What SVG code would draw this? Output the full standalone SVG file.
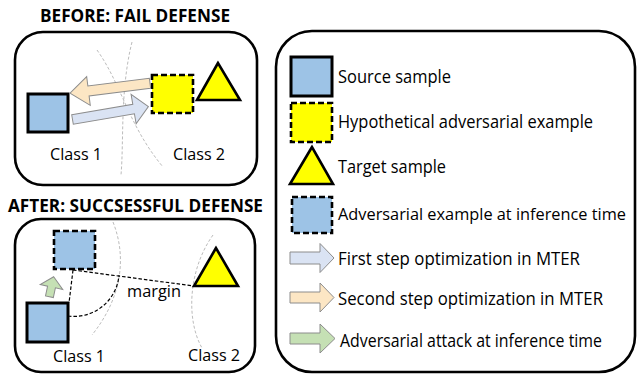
<svg xmlns="http://www.w3.org/2000/svg" width="639" height="375" viewBox="0 0 639 375">
<defs>
<style>
.panel{fill:#fff;stroke:#000;stroke-width:2.6}
.src{fill:#9DC3E6;stroke:#000;stroke-width:3}
.adv{fill:#9DC3E6;stroke:#000;stroke-width:2.6;stroke-dasharray:6 3}
.hyp{fill:#FFFF00;stroke:#000;stroke-width:2.6;stroke-dasharray:6 3}
.tgt{fill:#FFFF00;stroke:#000;stroke-width:2.6;stroke-linejoin:miter}
.bound{fill:none;stroke:#bcbcbc;stroke-width:1;stroke-dasharray:3 2}
.dash{fill:none;stroke:#000;stroke-width:1.2;stroke-dasharray:3.5 2}
.a1{fill:#DAE3F3;stroke:#8c8c8c;stroke-width:1}
.a2{fill:#FCE6C4;stroke:#8c8c8c;stroke-width:1}
.a3{fill:#C5E0B4;stroke:#8c8c8c;stroke-width:1}
.title{font-family:"Open Sans","Liberation Sans",sans-serif;font-weight:bold;font-size:17px;fill:#000}
.lbl{font-family:"Open Sans","Liberation Sans",sans-serif;font-size:17px;fill:#000}
.leg{font-family:"Open Sans","Liberation Sans",sans-serif;font-size:17.5px;fill:#000}
.legs{font-family:"Open Sans","Liberation Sans",sans-serif;font-size:16.5px;fill:#000}
</style>
</defs>

<!-- titles -->
<text class="title" x="40" y="22" textLength="190" lengthAdjust="spacingAndGlyphs">BEFORE: FAIL DEFENSE</text>
<text class="title" x="8" y="212" textLength="255" lengthAdjust="spacingAndGlyphs">AFTER: SUCCSESSFUL DEFENSE</text>

<!-- panels -->
<g id="panel-before"><rect class="panel" x="15" y="32" width="242" height="153" rx="28"/></g>
<g id="panel-after"><rect class="panel" x="15" y="219" width="240" height="153" rx="26"/></g>
<g id="panel-legend"><rect class="panel" x="276" y="31" width="359" height="341" rx="36"/></g>

<!-- decision boundaries -->
<g id="boundaries">
<path class="bound" d="M97,50 C122,85 128,125 163,167"/>
<path class="bound" d="M132,42 C120,90 124,140 121,175"/>
<path class="bound" d="M113,222 C128,260 120,300 92,335"/>
<path class="bound" d="M213,235 C188,270 186,320 202,348"/>
</g>

<!-- BEFORE nodes -->
<g id="before-source"><rect class="src" x="28" y="94" width="40" height="38"/></g>
<g id="before-hyp"><rect class="hyp" x="152" y="75" width="41" height="38"/></g>
<g id="before-target"><polygon class="tgt" points="218,63 197,100 240,100"/></g>
<text class="lbl" x="50" y="160" textLength="52" lengthAdjust="spacingAndGlyphs">Class 1</text>
<text class="lbl" x="173" y="160" textLength="52" lengthAdjust="spacingAndGlyphs">Class 2</text>

<!-- AFTER nodes -->
<g id="after-adv"><rect class="adv" x="54" y="231" width="41" height="38"/></g>
<g id="after-source"><rect class="src" x="27" y="303" width="41" height="39"/></g>
<g id="after-target"><polygon class="tgt" points="216,248 194,286 238,286"/></g>
<text class="lbl" x="127" y="297" textLength="54" lengthAdjust="spacingAndGlyphs">margin</text>
<text class="lbl" x="53" y="362" textLength="52" lengthAdjust="spacingAndGlyphs">Class 1</text>
<text class="lbl" x="188" y="361" textLength="52" lengthAdjust="spacingAndGlyphs">Class 2</text>

<!-- connectors -->
<g id="connectors">
<polygon class="a2" transform="translate(150,83.3) rotate(172.9)" points="0,-5 62,-5 62,-14.5 80.6,0 62,14.5 62,5 0,5"/>
<polygon class="a1" transform="translate(72.5,119.5) rotate(-9.7)" points="0,-4.8 62,-4.8 62,-15 77,0 62,15 62,4.8 0,4.8"/>
<polygon class="a3" transform="translate(51.5,287) rotate(12)" points="0,-10.5 11.5,0 4,0 4,10 -4,10 -4,0 -11.5,0"/>
<path class="dash" d="M73,270 L194,286"/>
<path class="dash" d="M73,270 L69,303"/>
<path class="dash" d="M68,316 A45 45 0 0 0 119,275"/>
</g>

<!-- legend -->
<g id="legend-source"><rect class="src" x="291" y="57" width="41" height="39"/>
<text class="leg" x="338" y="83" textLength="113" lengthAdjust="spacingAndGlyphs">Source sample</text></g>
<g id="legend-hyp"><rect class="hyp" x="291" y="103" width="41" height="39"/>
<text class="leg" x="338" y="128" textLength="255" lengthAdjust="spacingAndGlyphs">Hypothetical adversarial example</text></g>
<g id="legend-target"><polygon class="tgt" points="312,147 290,184 333,184"/>
<text class="leg" x="338" y="173" textLength="108" lengthAdjust="spacingAndGlyphs">Target sample</text></g>
<g id="legend-adv"><rect class="adv" x="292" y="197" width="40" height="36"/>
<text class="legs" x="338" y="220" textLength="288" lengthAdjust="spacingAndGlyphs">Adversarial example at inference time</text></g>
<g id="legend-first"><polygon class="a1" points="290,252 320,252 320,243.5 334,258 320,272.5 320,264 290,264"/>
<text class="leg" x="338" y="265" textLength="242" lengthAdjust="spacingAndGlyphs">First step optimization in MTER</text></g>
<g id="legend-second"><polygon class="a2" points="290,292 320,292 320,283 334,297.5 320,312 320,303 290,303"/>
<text class="leg" x="338" y="305" textLength="265" lengthAdjust="spacingAndGlyphs">Second step optimization in MTER</text></g>
<g id="legend-attack"><polygon class="a3" points="290,333 320,333 320,324 335,338.5 320,353 320,344 290,344"/>
<text class="leg" x="340" y="347" textLength="262" lengthAdjust="spacingAndGlyphs">Adversarial attack at inference time</text></g>
</svg>
